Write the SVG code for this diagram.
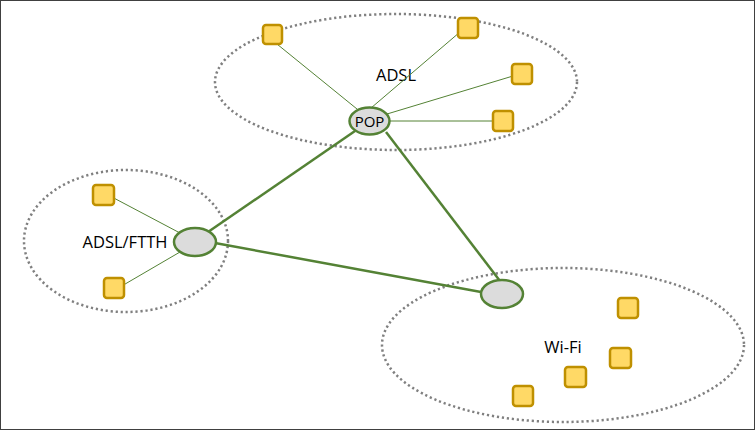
<svg xmlns="http://www.w3.org/2000/svg" width="755" height="430" viewBox="0 0 755 430">
<style>
.zone{fill:none;stroke:#808080;stroke-width:2.5;stroke-dasharray:2.2 2.8}
.dev{fill:#FFD966;stroke:#BF9000;stroke-width:2.5}
.hub{fill:#DCDCDC;stroke:#548235;stroke-width:2.5}
.thin{stroke:#548235;stroke-width:1;fill:none}
.thick{stroke:#548235;stroke-width:2.5;fill:none}
text{font-family:"Open Sans","Liberation Sans",sans-serif;font-size:16.5px;fill:#000;text-anchor:middle;dominant-baseline:central}
</style>
<rect x="0.5" y="0.5" width="754" height="429" fill="#fff" stroke="#404040" stroke-width="1"/>
<g id="zones">
<ellipse id="zone-adsl" class="zone" cx="396" cy="82" rx="181" ry="68"/>
<ellipse id="zone-ftth" class="zone" cx="126" cy="241" rx="102" ry="71"/>
<ellipse id="zone-wifi" class="zone" cx="563" cy="345" rx="181" ry="77"/>
<text x="396" y="74">ADSL</text>
<text x="125" y="241">ADSL/FTTH</text>
<text x="563" y="346">Wi-Fi</text>
</g>
<g id="connectors">
<line class="thin" x1="272" y1="40" x2="357" y2="109"/>
<line class="thin" x1="460" y1="32" x2="371" y2="108"/>
<line class="thin" x1="513" y1="76" x2="387" y2="114"/>
<line class="thin" x1="494" y1="121" x2="389" y2="121"/>
<line class="thin" x1="110" y1="196" x2="180" y2="233"/>
<line class="thin" x1="120" y1="287" x2="180" y2="252"/>
<line class="thick" x1="355" y1="131" x2="208" y2="232"/>
<line class="thick" x1="386" y1="132" x2="500" y2="281"/>
<line class="thick" x1="215" y1="243" x2="481" y2="292"/>
</g>
<g id="pop"><ellipse class="hub" cx="369.5" cy="121" rx="20" ry="13.5"/><text x="369.5" y="120.5" style="font-size:15px">POP</text></g>
<g id="hub-ftth"><ellipse class="hub" cx="195" cy="242" rx="21" ry="14"/></g>
<g id="hub-wifi"><ellipse class="hub" cx="502" cy="294" rx="21" ry="14"/></g>
<g id="adsl-dev-1"><rect class="dev" x="263" y="25" width="19" height="19" rx="3"/></g>
<g id="adsl-dev-2"><rect class="dev" x="458" y="18" width="20" height="20" rx="3"/></g>
<g id="adsl-dev-3"><rect class="dev" x="512" y="64" width="20" height="20" rx="3"/></g>
<g id="adsl-dev-4"><rect class="dev" x="493" y="111" width="20" height="20" rx="3"/></g>
<g id="ftth-dev-1"><rect class="dev" x="93" y="185" width="21" height="20" rx="3"/></g>
<g id="ftth-dev-2"><rect class="dev" x="104" y="278" width="20" height="20" rx="3"/></g>
<g id="wifi-dev-1"><rect class="dev" x="618" y="298" width="20" height="20" rx="3"/></g>
<g id="wifi-dev-2"><rect class="dev" x="610" y="348" width="21" height="20" rx="3"/></g>
<g id="wifi-dev-3"><rect class="dev" x="565" y="367" width="21" height="20" rx="3"/></g>
<g id="wifi-dev-4"><rect class="dev" x="513" y="386" width="20" height="20" rx="3"/></g>
</svg>
